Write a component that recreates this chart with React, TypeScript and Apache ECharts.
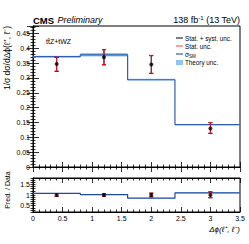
import React, { useEffect, useRef } from "react";
import * as echarts from "echarts";

const binEdges = [0, 0.8, 1.6, 2.4, 3.5];
const binCenters = [0.4, 1.2, 2.0, 3.0];
const dataValues = [0.347, 0.37, 0.345, 0.13];
const totalErrUp = [0.022, 0.025, 0.03, 0.019];
const totalErrDown = [0.025, 0.026, 0.03, 0.017];
const statErrUp = [0.023, 0.026, 0.031, 0.02];
const statErrDown = [0.024, 0.025, 0.029, 0.016];
const predValues = [0.372, 0.378, 0.294, 0.143];
const theoryUnc = [0.003, 0.006, 0.003, 0.002];
const xTickLabels = ["0", "0.5", "1", "1.5", "2", "2.5", "3", "3.5"];

const FONT = "Liberation Sans, Arial, sans-serif";
const BLUE = "#2f5fb3";
const BAND = "#92c4f2";
const RED = "#e3151b";
const PINK = "#f5a3a3";

function errorBarRender(color: string, cap: number, width: number) {
  return (params: any, api: any) => {
    const x = api.value(0);
    const lo = api.coord([x, api.value(1)]);
    const hi = api.coord([x, api.value(2)]);
    const st = { stroke: color, lineWidth: width };
    return {
      type: "group",
      children: [
        { type: "line", shape: { x1: lo[0], y1: lo[1], x2: hi[0], y2: hi[1] }, style: st },
        { type: "line", shape: { x1: lo[0] - cap, y1: lo[1], x2: lo[0] + cap, y2: lo[1] }, style: st },
        { type: "line", shape: { x1: hi[0] - cap, y1: hi[1], x2: hi[0] + cap, y2: hi[1] }, style: st },
      ],
    };
  };
}

function bandRender(params: any, api: any) {
  const p0 = api.coord([api.value(0), api.value(3)]);
  const p1 = api.coord([api.value(1), api.value(2)]);
  return {
    type: "rect",
    shape: { x: p0[0], y: p0[1], width: p1[0] - p0[0], height: p1[1] - p0[1] },
    style: { fill: BAND },
  };
}

function stepData(vals: number[]) {
  const d: number[][] = vals.map((v, i) => [binEdges[i], v]);
  d.push([binEdges[binEdges.length - 1], vals[vals.length - 1]]);
  return d;
}

export default function App() {
  const ref = useRef<HTMLDivElement>(null);
  useEffect(() => {
    if (!ref.current) return;
    const chart = echarts.init(ref.current, null, { renderer: "svg" });
    const ratioPred = predValues.map((p, i) => p / dataValues[i]);
    const ratioTheory = theoryUnc.map((t, i) => t / dataValues[i]);

    const tickCommon = {
      axisLine: { show: true, lineStyle: { color: "#000", width: 1 } },
      axisTick: { show: true, inside: true, length: 5, lineStyle: { color: "#000", width: 0.8 } },
      minorTick: { show: true, splitNumber: 5, length: 2.5, lineStyle: { color: "#000", width: 0.8 } },
      splitLine: { show: false },
    };
    const labelStyle = { fontFamily: FONT, fontSize: 7, color: "#000" };

    const xMain = (gridIndex: number, position: string, showLabel: boolean) => ({
      type: "value",
      gridIndex,
      position,
      min: 0,
      max: 3.5,
      interval: 0.5,
      ...tickCommon,
      axisLabel: {
        show: showLabel,
        ...labelStyle,
        margin: 3,
        formatter: (v: number) => xTickLabels[Math.round(v / 0.5)] ?? "",
      },
    });

    const yMain = (position: string, showLabel: boolean) => ({
      type: "value",
      gridIndex: 0,
      position,
      min: 0,
      max: 0.475,
      interval: 0.05,
      ...tickCommon,
      axisTick: { ...tickCommon.axisTick, length: 6 },
      axisLabel: { show: showLabel, ...labelStyle, margin: 3, showMaxLabel: false },
    });

    const yRatio = (position: string, showLabel: boolean) => ({
      type: "value",
      gridIndex: 1,
      position,
      min: 0.2,
      max: 1.8,
      interval: 0.1,
      ...tickCommon,
      axisTick: { ...tickCommon.axisTick, length: 2.5 },
      minorTick: { show: false },
      axisLabel: {
        show: showLabel,
        ...labelStyle,
        margin: 3,
        formatter: (v: number) => {
          for (const t of [0.5, 1, 1.5]) if (Math.abs(v - t) < 1e-6) return String(t);
          return "";
        },
      },
    });

    chart.setOption({
      animation: false,
      grid: [
        { left: 33, top: 26, width: 207, height: 141, show: true, borderColor: "#000", borderWidth: 1 },
        { left: 33, top: 178, width: 207, height: 34, show: true, borderColor: "#000", borderWidth: 1 },
      ],
      xAxis: [xMain(0, "bottom", false), xMain(0, "top", false), xMain(1, "bottom", true), xMain(1, "top", false)],
      yAxis: [yMain("left", true), yMain("right", false), yRatio("left", true), yRatio("right", false)],
      series: [
        {
          type: "custom",
          xAxisIndex: 0,
          yAxisIndex: 0,
          renderItem: bandRender,
          data: predValues.map((p, i) => [binEdges[i], binEdges[i + 1], p - theoryUnc[i], p + theoryUnc[i]]),
          silent: true,
          z: 1,
        },
        {
          type: "line",
          xAxisIndex: 0,
          yAxisIndex: 0,
          step: "end",
          symbol: "none",
          data: stepData(predValues),
          lineStyle: { color: BLUE, width: 1.2 },
          z: 2,
        },
        {
          type: "custom",
          xAxisIndex: 0,
          yAxisIndex: 0,
          renderItem: errorBarRender("#000", 2, 1),
          data: binCenters.map((x, i) => [x, dataValues[i] - totalErrDown[i], dataValues[i] + totalErrUp[i]]),
          z: 3,
        },
        {
          type: "custom",
          xAxisIndex: 0,
          yAxisIndex: 0,
          renderItem: errorBarRender(RED, 2, 1),
          data: binCenters.map((x, i) => [x, dataValues[i] - statErrDown[i], dataValues[i] + statErrUp[i]]),
          z: 4,
        },
        {
          type: "scatter",
          xAxisIndex: 0,
          yAxisIndex: 0,
          symbol: "circle",
          symbolSize: 4,
          itemStyle: { color: "#000" },
          data: binCenters.map((x, i) => [x, dataValues[i]]),
          z: 5,
        },
        {
          type: "custom",
          xAxisIndex: 2,
          yAxisIndex: 2,
          renderItem: bandRender,
          data: ratioPred.map((r, i) => [binEdges[i], binEdges[i + 1], r - ratioTheory[i], r + ratioTheory[i]]),
          silent: true,
          z: 1,
        },
        {
          type: "line",
          xAxisIndex: 2,
          yAxisIndex: 2,
          step: "end",
          symbol: "none",
          data: stepData(ratioPred),
          lineStyle: { color: "#1f4aa0", width: 1.2 },
          z: 2,
        },
        {
          type: "custom",
          xAxisIndex: 2,
          yAxisIndex: 2,
          renderItem: errorBarRender("#000", 2, 1),
          data: binCenters.map((x, i) => [x, 1 - totalErrDown[i] / dataValues[i], 1 + totalErrUp[i] / dataValues[i]]),
          z: 3,
        },
        {
          type: "custom",
          xAxisIndex: 2,
          yAxisIndex: 2,
          renderItem: errorBarRender(RED, 2, 1),
          data: binCenters.map((x, i) => [x, 1 - statErrDown[i] / dataValues[i], 1 + statErrUp[i] / dataValues[i]]),
          z: 4,
        },
        {
          type: "scatter",
          xAxisIndex: 2,
          yAxisIndex: 2,
          symbol: "circle",
          symbolSize: 4,
          itemStyle: { color: "#000" },
          data: binCenters.map((x) => [x, 1]),
          z: 5,
        },
      ],
      graphic: [
        {
          type: "text",
          x: 33,
          y: 20,
          style: {
            text: "{b|CMS} {i|Preliminary}",
            verticalAlign: "middle",
            rich: {
              b: { fontFamily: FONT, fontWeight: "bold", fontSize: 9.5, fill: "#000" },
              i: { fontFamily: FONT, fontStyle: "italic", fontSize: 9, fill: "#000" },
            },
          },
        },
        {
          type: "text",
          x: 240,
          y: 20,
          style: {
            text: "{n|138 fb}{s|-1}{n| (13 TeV)}",
            align: "right",
            verticalAlign: "middle",
            rich: {
              n: { fontFamily: FONT, fontSize: 9, fill: "#000" },
              s: { fontFamily: FONT, fontSize: 6, fill: "#000", verticalAlign: "top", padding: [0, 0, 5, 0] },
            },
          },
        },
        {
          type: "text",
          x: 46,
          y: 41,
          style: { text: "tt\u0304Z+tWZ", fontFamily: FONT, fontSize: 7, fill: "#000", verticalAlign: "middle" },
        },
        {
          type: "text",
          x: 7,
          y: 26,
          rotation: Math.PI / 2,
          style: {
            text: "1/σ dσ/dΔϕ(ℓ⁺, ℓ⁻)",
            fontFamily: FONT,
            fontSize: 8.5,
            fill: "#000",
            align: "right",
            verticalAlign: "middle",
          },
        },
        {
          type: "text",
          x: 7,
          y: 190,
          rotation: Math.PI / 2,
          style: {
            text: "Pred. / Data",
            fontFamily: FONT,
            fontSize: 7,
            fill: "#000",
            align: "center",
            verticalAlign: "middle",
          },
        },
        {
          type: "text",
          x: 240,
          y: 229,
          style: {
            text: "Δϕ(ℓ⁺, ℓ⁻)",
            fontFamily: FONT,
            fontStyle: "italic",
            fontSize: 8,
            fill: "#000",
            align: "right",
            verticalAlign: "middle",
          },
        },
        { type: "line", shape: { x1: 176, y1: 38, x2: 183, y2: 38 }, style: { stroke: "#000", lineWidth: 1 } },
        {
          type: "text",
          x: 185,
          y: 38,
          style: { text: "Stat. + syst. unc.", fontFamily: FONT, fontSize: 6.3, fill: "#000", verticalAlign: "middle" },
        },
        { type: "line", shape: { x1: 176, y1: 46, x2: 183, y2: 46 }, style: { stroke: PINK, lineWidth: 2 } },
        {
          type: "text",
          x: 185,
          y: 46,
          style: { text: "Stat. unc.", fontFamily: FONT, fontSize: 6.3, fill: "#000", verticalAlign: "middle" },
        },
        { type: "line", shape: { x1: 176, y1: 54, x2: 183, y2: 54 }, style: { stroke: BLUE, lineWidth: 1.2 } },
        {
          type: "text",
          x: 185,
          y: 54,
          style: {
            text: "{n|σ}{s|SM}",
            verticalAlign: "middle",
            rich: {
              n: { fontFamily: FONT, fontSize: 6.5, fill: "#000" },
              s: { fontFamily: FONT, fontSize: 4.5, fill: "#000", padding: [4, 0, 0, 0] },
            },
          },
        },
        { type: "rect", shape: { x: 176, y: 60, width: 7, height: 5 }, style: { fill: BAND } },
        {
          type: "text",
          x: 185,
          y: 62.5,
          style: { text: "Theory unc.", fontFamily: FONT, fontSize: 6.3, fill: "#000", verticalAlign: "middle" },
        },
      ],
    });
    return () => chart.dispose();
  }, []);
  return <div ref={ref} style={{ position: "absolute", left: 0, top: 0, width: 249, height: 244 }} />;
}
